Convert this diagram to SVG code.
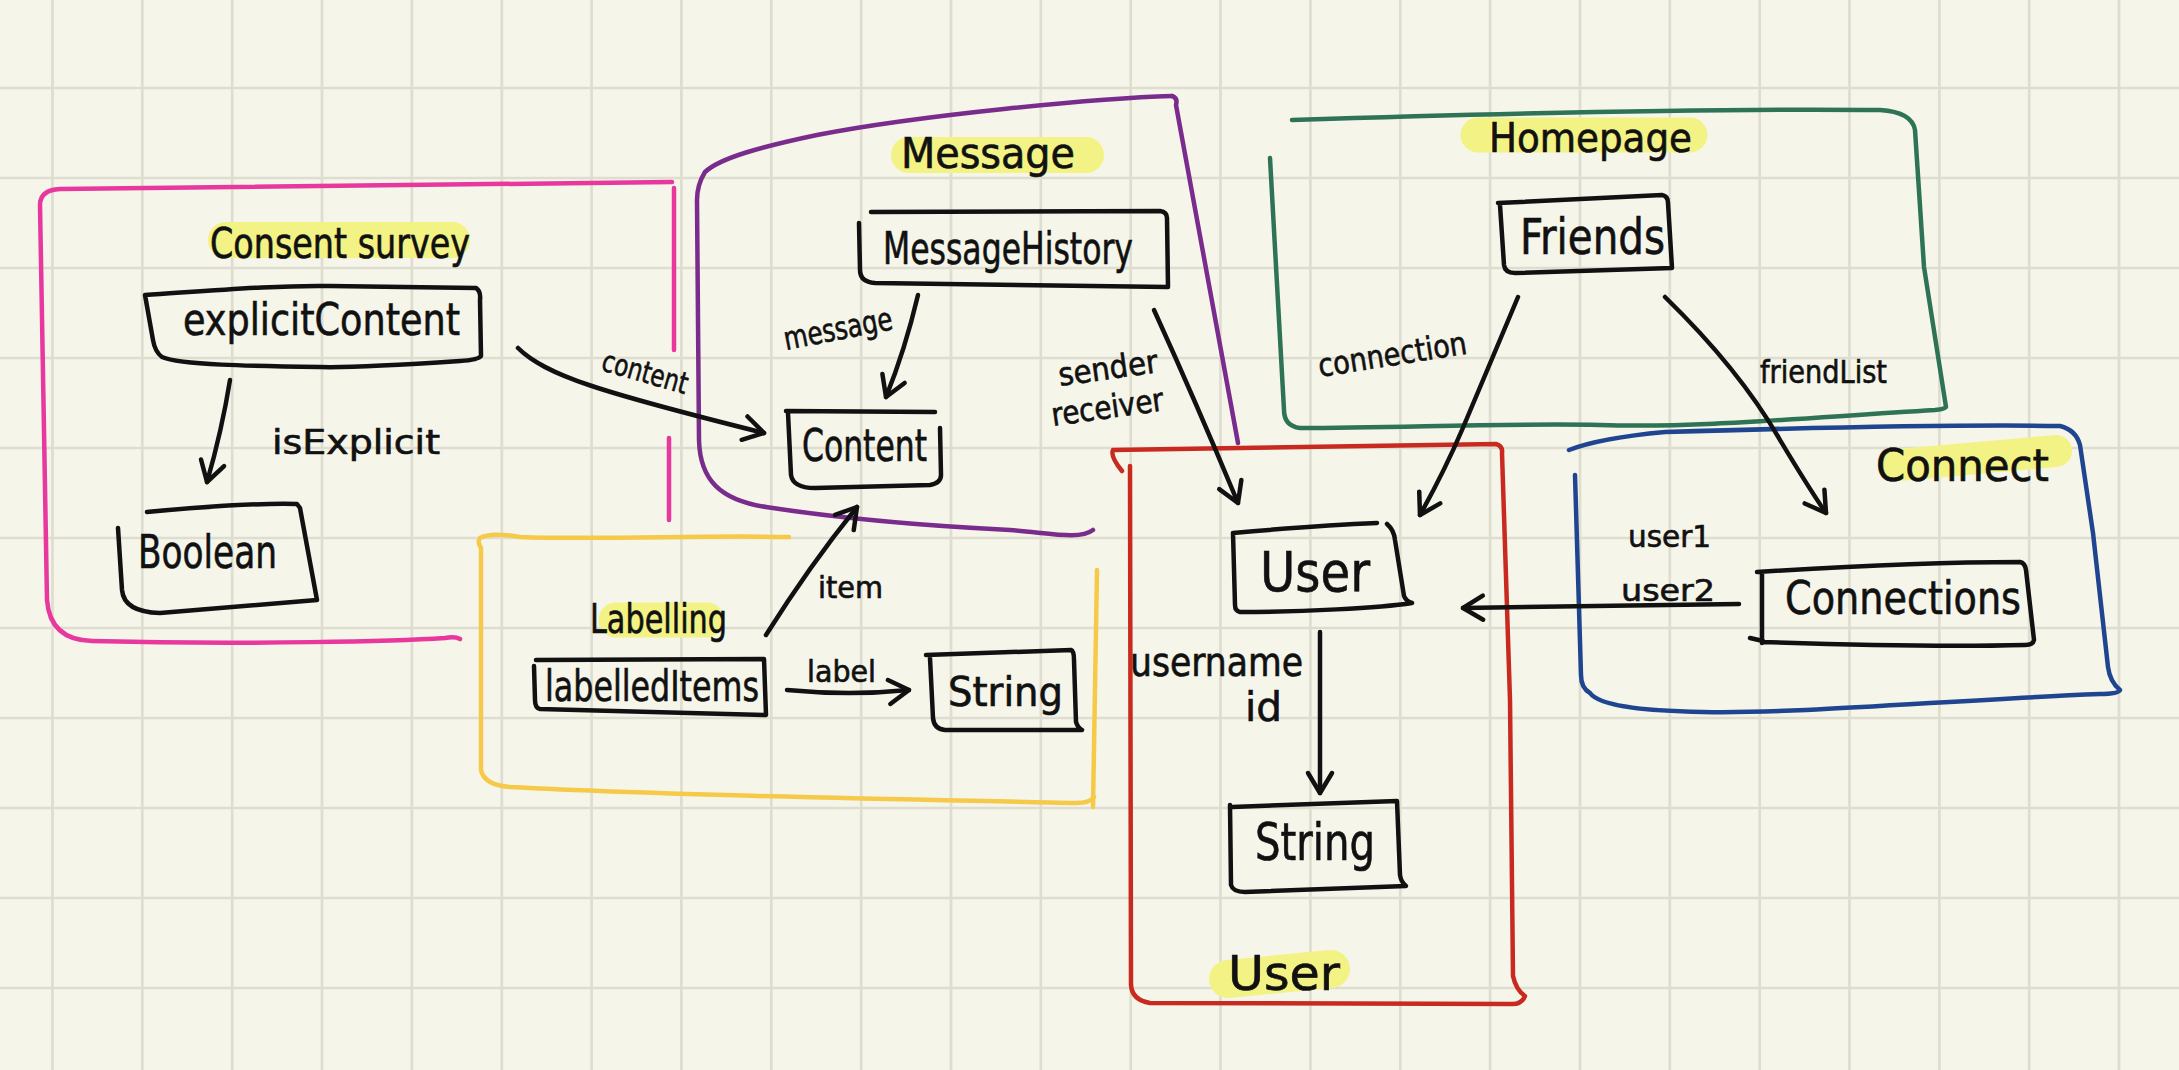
<svg xmlns="http://www.w3.org/2000/svg" width="2179" height="1070" viewBox="0 0 2179 1070">
<defs>
<style>
.grid{stroke:#deddd0;stroke-width:2.7;fill:none}
.fr{fill:none;stroke-width:4.5;stroke-linecap:round;stroke-linejoin:round}
.box{fill:none;stroke:#111;stroke-width:4.5;stroke-linecap:round;stroke-linejoin:round}
.con{fill:none;stroke:#111;stroke-width:4.5;stroke-linecap:round;stroke-linejoin:round}
.hl{stroke:#f3f385;stroke-linecap:round;fill:none}
.t{font-family:"Liberation Sans Narrow","DejaVu Sans Condensed","Liberation Sans",sans-serif;fill:#111;stroke:#111;stroke-width:0.6}
</style>
<marker id="ah" markerUnits="userSpaceOnUse" markerWidth="60" markerHeight="60" viewBox="-30 -30 60 60" refX="0" refY="0" orient="auto" overflow="visible">
<path d="M-20,-12 L0,0 L-20,12" fill="none" stroke="#111" stroke-width="4.5" stroke-linecap="round" stroke-linejoin="round"/>
</marker>
</defs>
<rect width="2179" height="1070" fill="#f5f5ea"/>
<g id="grid">
<path class="grid" d="M52.5,0V1070M142.3,0V1070M232.2,0V1070M322,0V1070M411.9,0V1070M501.8,0V1070M591.6,0V1070M681.4,0V1070M771.3,0V1070M861.2,0V1070M951,0V1070M1040.8,0V1070M1130.7,0V1070M1220.5,0V1070M1310.4,0V1070M1400.3,0V1070M1490.1,0V1070M1580,0V1070M1669.8,0V1070M1759.7,0V1070M1849.5,0V1070M1939.4,0V1070M2029.2,0V1070M2119,0V1070"/>
<path class="grid" d="M0,88H2179M0,178H2179M0,268H2179M0,358H2179M0,448H2179M0,538H2179M0,628H2179M0,718H2179M0,808H2179M0,898H2179M0,988H2179"/>
</g>
<g id="frames">
<path class="fr" stroke="#e8389e" d="M672,182 C500,183 300,186 60,189 Q40,190 40,205 L47,600 Q50,640 92,641 C250,645 400,641 445,638 Q455,636 460,639"/>
<path class="fr" stroke="#e8389e" d="M674,188 L674,350 M669,438 L669,520"/>
<path class="fr" stroke="#7a2c8c" d="M1172,96 C1100,98 920,115 817,135 C760,147 720,158 705,172 Q697,185 697,200 L699,440 C700,480 720,500 766,507 C850,520 950,527 1010,530 C1050,533 1080,540 1093,530"/>
<path class="fr" stroke="#7a2c8c" d="M1172,96 Q1178,98 1176,105 L1238,443"/>
<path class="fr" stroke="#f7c948" d="M789,537 C700,535 600,540 520,537 Q490,532 480,538 Q477,542 481,548 L481,770 Q484,785 510,787 C700,797 950,800 1076,803 Q1090,803 1094,797"/>
<path class="fr" stroke="#f7c948" d="M1097,570 L1093,807"/>
<path class="fr" stroke="#c92a20" d="M1122,471 Q1110,456 1113,450 L1496,444 Q1503,446 1502,453 L1510,700 L1513,976 Q1516,990 1525,996 Q1522,1004 1512,1004 L1150,1003 Q1132,1000 1131,985 L1130,466"/>
<path class="fr" stroke="#2f7356" d="M1292,120 C1450,115 1700,108 1880,110 Q1912,112 1915,130 L1924,267 L1946,407 Q1946,409 1935,410 C1800,418 1700,428 1600,425 C1500,423 1400,428 1300,428 Q1284,426 1284,410 L1270,158"/>
<path class="fr" stroke="#1f4590" d="M1569,450 Q1600,438 1665,432 C1800,428 1950,424 2060,426 Q2076,430 2080,445 L2093,533 L2108,667 Q2110,682 2120,690 Q2118,694 2100,694 C1950,700 1800,714 1703,712 C1650,711 1600,707 1590,693 Q1581,688 1581,675 L1575,475"/>
</g>
<g id="label-consent-survey">
<path class="hl" stroke-width="36" d="M226,240 L452,240"/>
<text class="t" x="210" y="258" font-size="42" textLength="260" lengthAdjust="spacingAndGlyphs">Consent survey</text>
</g>
<g id="label-message">
<path class="hl" stroke-width="36" d="M909,155 L1086,155"/>
<text class="t" x="901" y="168" font-size="42" textLength="174" lengthAdjust="spacingAndGlyphs">Message</text>
</g>
<g id="label-labelling">
<path class="hl" stroke-width="35" d="M616,620 L707,620"/>
<text class="t" x="590" y="633" font-size="40" textLength="137" lengthAdjust="spacingAndGlyphs">Labelling</text>
</g>
<g id="label-user">
<path class="hl" stroke-width="38" d="M1228,979 L1331,969"/>
<text class="t" x="1228" y="990" font-size="48" textLength="112" lengthAdjust="spacingAndGlyphs">User</text>
</g>
<g id="label-homepage">
<path class="hl" stroke-width="35" d="M1478,135 L1690,135"/>
<text class="t" x="1489" y="152" font-size="40" textLength="203" lengthAdjust="spacingAndGlyphs">Homepage</text>
</g>
<g id="label-connect">
<path class="hl" stroke-width="32" d="M1898,465 L2056,451"/>
<text class="t" x="1876" y="481" font-size="44" textLength="173" lengthAdjust="spacingAndGlyphs">Connect</text>
</g>
<g id="node-explicitContent">
<path class="box" d="M145,295 C220,290 280,285 330,286 L476,288 Q481,291 480,300 L481,356 Q478,360 460,361 C400,365 350,368 320,367 C250,366 180,365 162,357 Q155,352 153,340 Z"/>
<text class="t" x="183" y="335" font-size="44" textLength="277" lengthAdjust="spacingAndGlyphs">explicitContent</text>
</g>
<g id="node-boolean">
<path class="box" d="M147,512 C200,507 260,503 297,504 L300,508 L317,600 L160,613 Q124,612 122,590 L118,528"/>
<text class="t" x="138" y="568" font-size="46" textLength="139" lengthAdjust="spacingAndGlyphs">Boolean</text>
</g>
<g id="node-messageHistory">
<path class="box" d="M871,212 L1160,211 Q1167,212 1167,218 L1168,287 L875,283 Q860,282 860,270 L859,223"/>
<text class="t" x="883" y="264" font-size="44" textLength="250" lengthAdjust="spacingAndGlyphs">MessageHistory</text>
</g>
<g id="node-content">
<path class="box" d="M786,411 L935,412 M788,413 L791,475 Q793,488 815,488 L930,485 Q941,483 941,475 L940,428"/>
<text class="t" x="802" y="461" font-size="44" textLength="125" lengthAdjust="spacingAndGlyphs">Content</text>
</g>
<g id="node-labelledItems">
<path class="box" d="M536,660 L764,659 L766,715 L540,709 Q535,708 535,700 L534,666"/>
<text class="t" x="545" y="701" font-size="42" textLength="214" lengthAdjust="spacingAndGlyphs">labelledItems</text>
</g>
<g id="node-string-labelling">
<path class="box" d="M926,655 L1071,650 Q1074,651 1074,660 L1076,722 Q1078,728 1082,730 L945,730 Q934,729 933,718 L930,658"/>
<text class="t" x="948" y="706" font-size="40" textLength="115" lengthAdjust="spacingAndGlyphs">String</text>
</g>
<g id="node-user">
<path class="box" d="M1233,533 C1300,527 1350,524 1377,523 M1387,524 Q1394,530 1395,540 L1404,596 Q1406,601 1412,603 C1380,608 1300,612 1240,612 Q1235,611 1235,605 L1233,533"/>
<text class="t" x="1260" y="591" font-size="56" textLength="110" lengthAdjust="spacingAndGlyphs">User</text>
</g>
<g id="node-string-user">
<path class="box" d="M1230,805 L1231,885 Q1233,892 1245,892 L1406,886 Q1401,882 1400,875 L1397,801 L1232,807"/>
<text class="t" x="1255" y="860" font-size="52" textLength="120" lengthAdjust="spacingAndGlyphs">String</text>
</g>
<g id="node-friends">
<path class="box" d="M1498,203 L1662,195 Q1668,196 1668,203 L1672,268 L1515,273 Q1505,273 1504,265 L1500,205"/>
<text class="t" x="1520" y="254" font-size="50" textLength="145" lengthAdjust="spacingAndGlyphs">Friends</text>
</g>
<g id="node-connections">
<path class="box" d="M1757,572 C1850,566 1950,562 2020,562 Q2025,563 2026,570 L2034,640 Q2033,645 2025,645 C1950,647 1850,645 1762,642 M1762,572 L1762,643 M1750,638 L1763,641"/>
<text class="t" x="1785" y="614" font-size="46" textLength="236" lengthAdjust="spacingAndGlyphs">Connections</text>
</g>
<g id="connectors">
<path class="con" marker-end="url(#ah)" d="M230,380 Q222,430 207,482"/>
<text class="t" x="272" y="454" font-size="34" textLength="168" lengthAdjust="spacingAndGlyphs">isExplicit</text>
<path class="con" marker-end="url(#ah)" d="M518,348 C545,375 600,392 764,433"/>
<text class="t" transform="translate(600,370) rotate(16)" font-size="30" textLength="88" lengthAdjust="spacingAndGlyphs">content</text>
<path class="con" marker-end="url(#ah)" d="M918,295 Q905,350 886,397"/>
<text class="t" transform="translate(786,350) rotate(-11)" font-size="32" textLength="110" lengthAdjust="spacingAndGlyphs">message</text>
<path class="con" marker-end="url(#ah)" d="M1154,310 Q1195,400 1238,503"/>
<text class="t" transform="translate(1060,386) rotate(-8)" font-size="32" textLength="100" lengthAdjust="spacingAndGlyphs">sender</text>
<text class="t" transform="translate(1053,426) rotate(-8)" font-size="32" textLength="113" lengthAdjust="spacingAndGlyphs">receiver</text>
<path class="con" marker-end="url(#ah)" d="M766,635 Q810,565 857,507"/>
<text class="t" x="818" y="598" font-size="30" textLength="65" lengthAdjust="spacingAndGlyphs">item</text>
<path class="con" marker-end="url(#ah)" d="M787,690 Q850,696 909,690"/>
<text class="t" x="807" y="682" font-size="30" textLength="69" lengthAdjust="spacingAndGlyphs">label</text>
<path class="con" marker-end="url(#ah)" d="M1320,632 L1320,793"/>
<text class="t" x="1130" y="676" font-size="40" textLength="173" lengthAdjust="spacingAndGlyphs">username</text>
<text class="t" x="1245" y="721" font-size="40" textLength="37" lengthAdjust="spacingAndGlyphs">id</text>
<path class="con" marker-end="url(#ah)" d="M1518,297 L1462,430 Q1445,470 1420,515"/>
<text class="t" transform="translate(1320,377) rotate(-9)" font-size="32" textLength="150" lengthAdjust="spacingAndGlyphs">connection</text>
<path class="con" marker-end="url(#ah)" d="M1665,297 Q1740,370 1780,440 Q1810,490 1826,513"/>
<text class="t" x="1760" y="383" font-size="32" textLength="127" lengthAdjust="spacingAndGlyphs">friendList</text>
<path class="con" marker-end="url(#ah)" d="M1739,604 Q1600,606 1463,608"/>
<text class="t" x="1628" y="547" font-size="30" textLength="83" lengthAdjust="spacingAndGlyphs">user1</text>
<text class="t" x="1621" y="601" font-size="30" textLength="94" lengthAdjust="spacingAndGlyphs">user2</text>
</g>
</svg>
